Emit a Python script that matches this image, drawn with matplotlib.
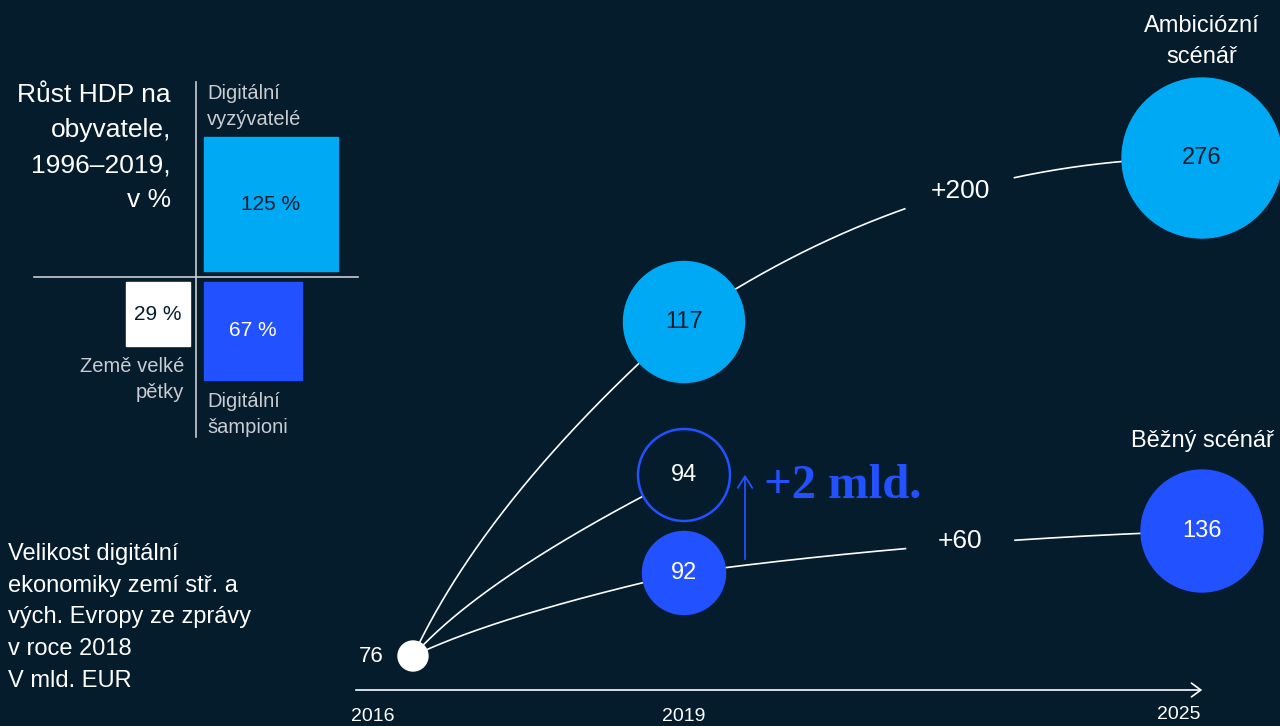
import numpy as np
import matplotlib.pyplot as plt
from matplotlib.patches import Circle, Rectangle

plt.rcParams['font.family'] = ['Liberation Sans', 'DejaVu Sans']

# --- data ---
years = [2016, 2019, 2025]
ambitious = [76, 117, 276]        # ambiciózní scénář
current = [76, 92, 136]           # běžný scénář
potential_2019 = 94               # +2 mld.
scenario_names = ['Ambiciózní\nscénář', 'Běžný scénář']

growth_groups = ['Digitální\nvyzývatelé', 'Digitální\nšampioni', 'Země velké\npětky']
growth_pct = [125, 67, 29]

title_lines = ['Růst HDP na', 'obyvatele,', '1996–2019,', 'v %']
note_lines = ['Velikost digitální', 'ekonomiky zemí stř. a',
              'vých. Evropy ze zprávy', 'v roce 2018', 'V mld. EUR']

# --- style / layout (pixel canvas) ---
BG = '#051c2c'
CYAN = '#00a9f4'
BLUE = '#2251ff'
WHITE = '#ffffff'
GREY = '#c9ccd0'

year_x = [413, 684, 1202]
amb_y = [656, 322, 158]
cur_y = [656, 573, 531]
pot_y = 475
amb_r = [15, 60.5, 80]
cur_r = [15, 41.5, 61]
pot_r = 46
bend_amb = [(488, 496), (925, 158)]
bend_cur = [(496, 616), (930, 540)]
bend_pot = (484, 576)
gap_x = 960
gap_half = 53

fig = plt.figure(figsize=(12.8, 7.26), dpi=100)
fig.patch.set_facecolor(BG)
ax = fig.add_axes([0, 0, 1, 1])
ax.set_xlim(0, 1280)
ax.set_ylim(726, 0)
ax.axis('off')
ax.set_facecolor(BG)


def bez(p0, c, p2, n=300):
    t = np.linspace(0, 1, n)[:, None]
    return (1 - t) ** 2 * np.array(p0) + 2 * (1 - t) * t * np.array(c) + t ** 2 * np.array(p2)


def curve(p0, c, p2, gap=False):
    pts = bez(p0, c, p2)
    x, y = pts[:, 0].copy(), pts[:, 1].copy()
    lab_y = np.interp(gap_x, x, y)
    if gap:
        y[np.abs(x - gap_x) < gap_half] = np.nan
    ax.plot(x, y, color=WHITE, lw=1.2, zorder=1, solid_capstyle='butt')
    return lab_y


# curves 2016 -> 2019
curve((year_x[0], amb_y[0]), bend_amb[0], (year_x[1], amb_y[1]))
curve((year_x[0], cur_y[0]), bend_pot, (year_x[1], pot_y))
curve((year_x[0], cur_y[0]), bend_cur[0], (year_x[1], cur_y[1]))
# curves 2019 -> 2025
ya = curve((year_x[1], amb_y[1]), bend_amb[1], (year_x[2], amb_y[2]), gap=True)
yc = curve((year_x[1], cur_y[1]), bend_cur[1], (year_x[2], cur_y[2]), gap=True)

ax.text(gap_x, ya, f'+{ambitious[2] - ambitious[0]}', color=WHITE, fontsize=19,
        ha='center', va='center')
ax.text(gap_x, yc - 3, f'+{current[2] - current[0]}', color=WHITE, fontsize=19,
        ha='center', va='center')

# circles
ax.add_patch(Circle((year_x[0], amb_y[0]), amb_r[0], color=WHITE, zorder=3))
ax.text(year_x[0] - 42, amb_y[0], str(ambitious[0]), color=WHITE, fontsize=16,
        ha='center', va='center')
for i in (1, 2):
    ax.add_patch(Circle((year_x[i], amb_y[i]), amb_r[i], color=CYAN, zorder=3))
    ax.text(year_x[i], amb_y[i], str(ambitious[i]), color=BG, fontsize=17,
            ha='center', va='center', zorder=4)
    ax.add_patch(Circle((year_x[i], cur_y[i]), cur_r[i], color=BLUE, zorder=3))
    ax.text(year_x[i], cur_y[i], str(current[i]), color=WHITE, fontsize=17,
            ha='center', va='center', zorder=4)
ax.add_patch(Circle((year_x[1], pot_y), pot_r, facecolor=BG, edgecolor=BLUE,
                    lw=1.8, zorder=3))
ax.text(year_x[1], pot_y, str(potential_2019), color=WHITE, fontsize=17,
        ha='center', va='center', zorder=4)

# +2 mld. arrow
ax.annotate('', xy=(745, pot_y - 3), xytext=(745, cur_y[1] - 11),
            arrowprops=dict(arrowstyle='->,head_length=0.55,head_width=0.35',
                            color=BLUE, lw=1.3, mutation_scale=15))
ax.text(764, 498, f'+{potential_2019 - current[1]} mld.', color=BLUE,
        fontsize=35, fontweight='bold', family='Liberation Serif',
        ha='left', va='baseline')

# scenario labels
ax.text(year_x[2], 32, scenario_names[0].split('\n')[0], color=WHITE, fontsize=17,
        ha='center', va='baseline')
ax.text(year_x[2], 63, scenario_names[0].split('\n')[1], color=WHITE, fontsize=17,
        ha='center', va='baseline')
ax.text(year_x[2], 447, scenario_names[1], color=WHITE, fontsize=17,
        ha='center', va='baseline')

# time axis
ax.annotate('', xy=(1205, 690), xytext=(353, 690),
            arrowprops=dict(arrowstyle='->,head_length=0.45,head_width=0.33',
                            color=WHITE, lw=1.2, mutation_scale=15))
ax.text(351, 721, str(years[0]), color=WHITE, fontsize=14, ha='left', va='baseline')
ax.text(year_x[1], 721, str(years[1]), color=WHITE, fontsize=14, ha='center', va='baseline')
ax.text(1200, 719, str(years[2]), color=WHITE, fontsize=14, ha='right', va='baseline')

# --- left panel: GDP growth squares ---
cx, cy = 196, 277
k = 11.95
ax.plot([cx, cx], [82, 437], color=GREY, lw=1.2)
ax.plot([34, 358], [cy, cy], color=GREY, lw=1.2)

s0, s1, s2 = [k * np.sqrt(v) for v in growth_pct]
sq = [
    (cx + 8, cy - 6 - s0, s0, CYAN, BG),
    (cx + 8, cy + 5, s1, BLUE, WHITE),
    (cx - 6 - s2, cy + 5, s2, WHITE, BG),
]
for (x0, y0, s, fc, tc), v in zip(sq, growth_pct):
    ax.add_patch(Rectangle((x0, y0), s, s, color=fc, zorder=2))
    ax.text(x0 + s / 2, y0 + s / 2, f'{v} %', color=tc, fontsize=15,
            ha='center', va='center', zorder=3)

g0, g1, g2 = [g.split('\n') for g in growth_groups]
ax.text(207, 99, g0[0], color=GREY, fontsize=14.5, ha='left', va='baseline')
ax.text(207, 125, g0[1], color=GREY, fontsize=14.5, ha='left', va='baseline')
ax.text(207, 407, g1[0], color=GREY, fontsize=14.5, ha='left', va='baseline')
ax.text(207, 433, g1[1], color=GREY, fontsize=14.5, ha='left', va='baseline')
ax.text(184, 372, g2[0], color=GREY, fontsize=14.5, ha='right', va='baseline')
ax.text(184, 398, g2[1], color=GREY, fontsize=14.5, ha='right', va='baseline')

for i, line in enumerate(title_lines):
    ax.text(171, 102 + 35 * i, line, color=WHITE, fontsize=19, ha='right', va='baseline')

for i, line in enumerate(note_lines):
    ax.text(8, 560 + 31.7 * i, line, color=WHITE, fontsize=17, ha='left', va='baseline')

fig.savefig('out.png', dpi=100, facecolor=BG)
